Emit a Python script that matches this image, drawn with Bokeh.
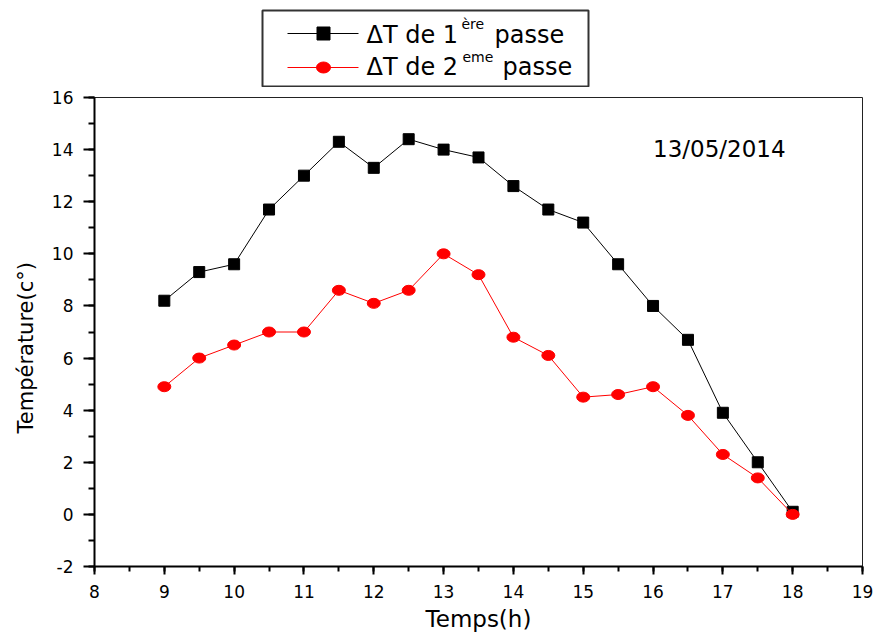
from bokeh.plotting import figure
from bokeh.models import Range1d, SingleIntervalTicker, Label, Title
from bokeh.layouts import column
from bokeh.embed import file_html
from bokeh.resources import INLINE
from bokeh.core.properties import value

# ---------------- data ----------------
hours = [9, 9.5, 10, 10.5, 11, 11.5, 12, 12.5, 13, 13.5, 14, 14.5, 15, 15.5, 16, 16.5, 17, 17.5, 18]
dt_pass1 = [8.2, 9.3, 9.6, 11.7, 13.0, 14.3, 13.3, 14.4, 14.0, 13.7, 12.6, 11.7, 11.2, 9.6, 8.0, 6.7, 3.9, 2.0, 0.1]
dt_pass2 = [4.9, 6.0, 6.5, 7.0, 7.0, 8.6, 8.1, 8.6, 10.0, 9.2, 6.8, 6.1, 4.5, 4.6, 4.9, 3.8, 2.3, 1.4, 0.0]
series_main = ["\u0394T de 1", "\u0394T de 2"]
series_sup = ["\u00e8re", "eme"]
series_tail = ["passe", "passe"]
date_text = "13/05/2014"
x_label = "Temps(h)"
y_label = "Temp\u00e9rature(c\u00b0)"
x_min, x_max = 8, 19
y_min, y_max = -2, 16

FONT = "DejaVu Sans"
BL, BR = 94, 12          # left / right borders shared by both strips (frames are aligned)
W = 874
LEG_H = 87

# ---------------- main plot ----------------
p = figure(width=W, height=641 - LEG_H, x_range=Range1d(x_min, x_max), y_range=Range1d(y_min, y_max),
           output_backend="svg", toolbar_location=None,
           min_border_left=BL, min_border_right=BR, min_border_top=97 - LEG_H,
           min_border_bottom=641 - LEG_H - (97 - LEG_H) - 469)
p.grid.visible = False
p.background_fill_color = "white"
p.border_fill_color = "white"
p.outline_line_color = "#222222"
p.outline_line_width = 1

p.xaxis.ticker = SingleIntervalTicker(interval=1, num_minor_ticks=2)
p.yaxis.ticker = SingleIntervalTicker(interval=2, num_minor_ticks=2)
p.yaxis.major_label_overrides = {-2: "-2"}

for ax in (p.xaxis[0], p.yaxis[0]):
    ax.axis_line_width = 2
    ax.axis_line_color = "black"
    ax.major_tick_line_width = 2
    ax.minor_tick_line_width = 2
    ax.major_tick_line_color = "black"
    ax.minor_tick_line_color = "black"
    ax.major_tick_in = 0
    ax.minor_tick_in = 0
    ax.major_label_text_font = FONT
    ax.major_label_text_font_size = "17px"
    ax.major_label_text_color = "black"
    ax.axis_label_text_font = FONT
    ax.axis_label_text_font_style = "normal"
    ax.axis_label_text_color = "black"

p.xaxis.axis_label = x_label
p.xaxis.major_tick_out = 8
p.xaxis.minor_tick_out = 5
p.xaxis.major_label_standoff = 10
p.xaxis.axis_label_text_font_size = "23px"
p.xaxis.axis_label_standoff = 5

p.yaxis.major_tick_out = 11
p.yaxis.minor_tick_out = 6
p.yaxis.major_label_standoff = 10

# y label as a side title so that it can sit a little below the frame's middle, as in the reference
p.add_layout(Title(text=y_label, align="left", offset=133, text_font=FONT, text_font_size="21px",
                   text_font_style="normal", text_color="black", standoff=22), "left")

p.line(hours, dt_pass1, line_color="black", line_width=1)
p.scatter(hours, dt_pass1, marker="square", size=11, fill_color="black", line_color="black")
p.line(hours, dt_pass2, line_color="#ff0000", line_width=1)
p.ellipse(hours, dt_pass2, width=13, height=10, width_units="screen", height_units="screen",
          fill_color="#ff0000", line_color="#ff0000")

p.add_layout(Label(x=16.0, y=14.02, text=date_text, text_font=FONT, text_font_size="23px",
                   text_baseline="alphabetic", text_color="black"))

# ---------------- legend (drawn in its own strip above the plot) ----------------
# the strip's frame spans page pixels BL..W-BR horizontally and 0..LEG_H vertically
lg = figure(width=W, height=LEG_H, x_range=Range1d(BL, W - BR), y_range=Range1d(LEG_H, 0),
            output_backend="svg", toolbar_location=None,
            x_axis_location=None, y_axis_location=None,
            min_border_left=BL, min_border_right=BR, min_border_top=0, min_border_bottom=0)
lg.grid.visible = False
lg.outline_line_color = None
lg.background_fill_color = "white"
lg.border_fill_color = "white"

lg.quad(left=[262], right=[588], top=[10], bottom=[86], fill_color=None,
        line_color="#333333", line_width=2)

row_y = [33, 67]
base_y = [34, 66]
sup_y = [23, 56]
lg.line([287, 358], [row_y[0], row_y[0]], line_color="black", line_width=1)
lg.scatter([323], [row_y[0]], marker="square", size=13, fill_color="black", line_color="black")
lg.line([287, 358], [row_y[1], row_y[1]], line_color="#ff0000", line_width=1)
lg.ellipse([323], [row_y[1]], width=14, height=11, width_units="screen", height_units="screen",
           fill_color="#ff0000", line_color="#ff0000")

lg.text(x=[366, 366], y=base_y, text=series_main, text_font=value(FONT), text_font_size="24px",
        text_baseline="alphabetic", text_color="black")
lg.text(x=[461, 462], y=sup_y, text=series_sup, text_font=value(FONT), text_font_size="14px",
        text_baseline="alphabetic", text_color="black")
lg.text(x=[494, 502], y=base_y, text=series_tail, text_font=value(FONT), text_font_size="24px",
        text_baseline="alphabetic", text_color="black")

layout = column(lg, p)
open("out.html", "w").write(file_html(layout, INLINE))
